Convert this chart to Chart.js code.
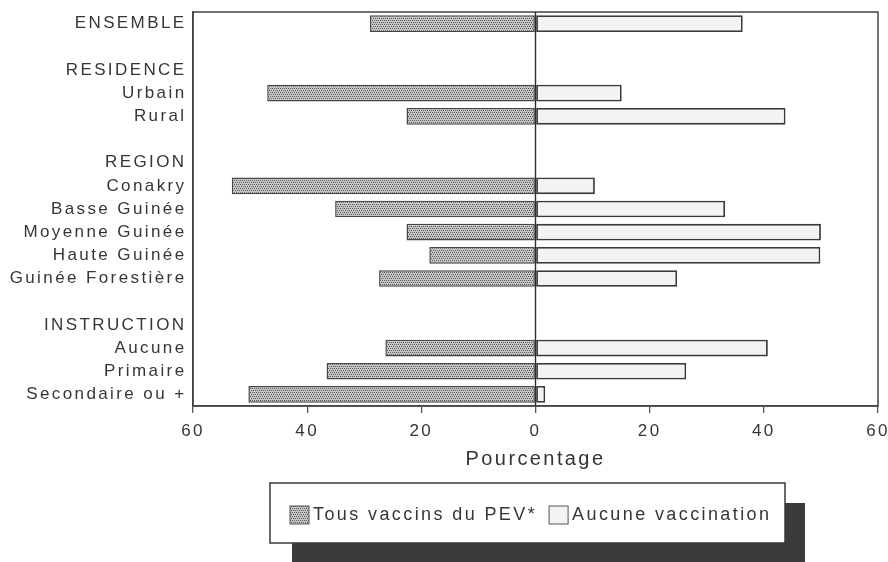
<!DOCTYPE html>
<html>
<head>
<meta charset="utf-8">
<script src="https://cdn.jsdelivr.net/npm/chart.js@4.4.0/dist/chart.umd.min.js"></script>
<style>
  html, body { margin: 0; padding: 0; background: #ffffff; }
</style>
</head>
<body>
<canvas id="vaccChart" width="888" height="562"></canvas>
<script>
// rows from top to bottom; empty strings are spacer rows
const categories = ['ENSEMBLE', '', 'RESIDENCE', 'Urbain', 'Rural', '', 'REGION', 'Conakry',
  'Basse Guinée', 'Moyenne Guinée', 'Haute Guinée', 'Guinée Forestière', '', 'INSTRUCTION',
  'Aucune', 'Primaire', 'Secondaire ou +'];
const tousVaccins = [29.0, null, null, 47.0, 22.6, null, null, 53.2, 35.1, 22.6, 18.6, 27.4,
  null, null, 26.3, 36.6, 50.3];
const aucuneVaccination = [36.3, null, null, 15.1, 43.8, null, null, 10.4, 33.2, 50.0, 49.9, 24.8,
  null, null, 40.7, 26.4, 1.7];
const xTicks = [-60, -40, -20, 0, 20, 40, 60];
const seriesLabels = ['Tous vaccins du PEV*', 'Aucune vaccination'];

const FONT = "'Liberation Sans', Arial, Helvetica, sans-serif";
const TEXT = '#363636';

// grey stipple used for the left-hand bars
function stipple() {
  const c = document.createElement('canvas');
  c.width = 4; c.height = 4;
  const g = c.getContext('2d');
  g.fillStyle = '#c6c6c6';
  g.fillRect(0, 0, 4, 4);
  g.fillStyle = '#5a5a5a';
  [[0, 0], [2, 0], [1, 2], [3, 2]].forEach(p => g.fillRect(p[0], p[1], 1, 1));
  return g.createPattern(c, 'repeat');
}

// wide letter spacing for all chart text
const spacing = {
  id: 'spacing',
  beforeUpdate(chart) { chart.ctx.letterSpacing = '2.4px'; },
  beforeDraw(chart) { chart.ctx.letterSpacing = '2.4px'; }
};

// box around the plot and the vertical line at zero
const frame = {
  id: 'frame',
  afterDatasetsDraw(chart) {
    const { ctx, chartArea: a } = chart;
    const x0 = chart.scales.x.getPixelForValue(0);
    ctx.save();
    ctx.strokeStyle = '#444';
    ctx.lineWidth = 1.5;
    ctx.strokeRect(a.left, a.top, a.right - a.left, a.bottom - a.top);
    ctx.strokeStyle = '#2e2e2e';
    ctx.lineWidth = 1.4;
    ctx.beginPath();
    ctx.moveTo(x0, a.top);
    ctx.lineTo(x0, a.bottom);
    ctx.stroke();
    ctx.restore();
  }
};

// framed legend with a dark drop shadow
const boxLegend = {
  id: 'boxLegend',
  afterDraw(chart, args, opts) {
    const { ctx } = chart;
    const b = opts.box;
    ctx.save();
    ctx.letterSpacing = '2.4px';
    ctx.fillStyle = '#3b3b3b';
    ctx.fillRect(b.x + 22, b.y + 20, b.w - 2, b.h + 20);
    ctx.fillStyle = '#ffffff';
    ctx.fillRect(b.x, b.y, b.w, b.h);
    ctx.strokeStyle = '#3a3a3a';
    ctx.lineWidth = 1.5;
    ctx.strokeRect(b.x, b.y, b.w, b.h);
    ctx.font = '18px ' + FONT;
    ctx.textBaseline = 'middle';
    let x = b.x + 20;
    const cy = b.y + b.h / 2 + 2;
    chart.data.datasets.forEach(ds => {
      ctx.fillStyle = ds.backgroundColor;
      ctx.fillRect(x, cy - 9, 19, 18);
      ctx.strokeStyle = '#555';
      ctx.lineWidth = 1;
      ctx.strokeRect(x, cy - 9, 19, 18);
      ctx.fillStyle = TEXT;
      ctx.fillText(ds.label, x + 23, cy);
      x += 23 + ctx.measureText(ds.label).width + 12;
    });
    ctx.restore();
  }
};

new Chart(document.getElementById('vaccChart'), {
  type: 'bar',
  data: {
    labels: categories,
    datasets: [
      {
        label: seriesLabels[0],
        data: tousVaccins.map(v => v === null ? null : -v),
        backgroundColor: stipple(),
        borderColor: '#474747',
        borderWidth: 1.5,
        borderSkipped: false
      },
      {
        label: seriesLabels[1],
        data: aucuneVaccination,
        backgroundColor: '#f3f3f3',
        borderColor: '#3a3a3a',
        borderWidth: 1.8,
        borderSkipped: false
      }
    ]
  },
  options: {
    indexAxis: 'y',
    responsive: false,
    animation: false,
    devicePixelRatio: 1,
    barPercentage: 0.72,
    categoryPercentage: 1,
    layout: { padding: { top: 12, right: 10, bottom: 91, left: 0 } },
    plugins: {
      legend: { display: false },
      tooltip: { enabled: false },
      boxLegend: { box: { x: 270, y: 483, w: 515, h: 60 } }
    },
    scales: {
      x: {
        stacked: true,
        min: -60,
        max: 60,
        afterBuildTicks: s => { s.ticks = xTicks.map(v => ({ value: v })); },
        afterFit: s => { s.height = 65; s.paddingLeft = 0; s.paddingRight = 0; },
        grid: {
          color: 'rgba(0,0,0,0)',
          tickColor: '#555',
          tickLength: 7,
          lineWidth: 1.3
        },
        border: { display: true, color: '#444', width: 1.5 },
        ticks: {
          padding: 8,
          color: TEXT,
          font: { family: FONT, size: 17 },
          callback: v => Math.abs(v)
        },
        title: {
          display: true,
          text: 'Pourcentage',
          color: '#333',
          font: { family: FONT, size: 20 },
          padding: { top: 0, bottom: 0 }
        }
      },
      y: {
        stacked: true,
        afterFit: s => { s.width = 193; s.paddingTop = 0; s.paddingBottom = 0; },
        grid: { display: false },
        border: { display: true, color: '#444', width: 1.5 },
        ticks: {
          padding: -1.5,
          color: TEXT,
          autoSkip: false,
          font: { family: FONT, size: 17 }
        }
      }
    }
  },
  plugins: [spacing, frame, boxLegend]
});
</script>
</body>
</html>
